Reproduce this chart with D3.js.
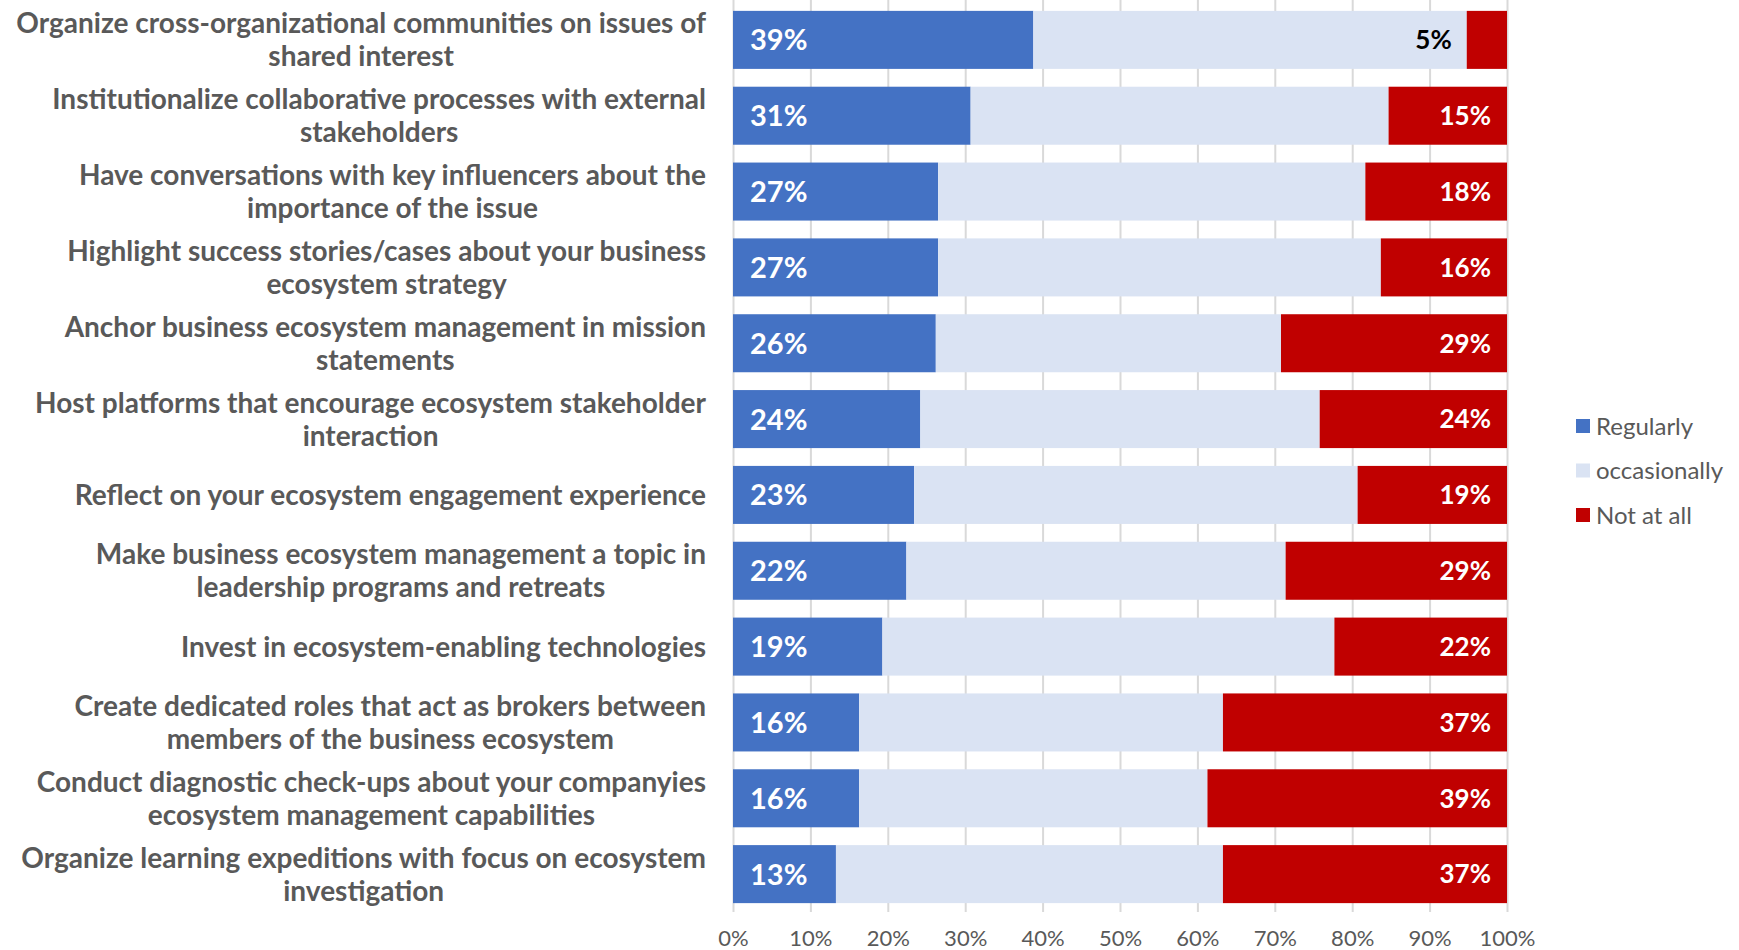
<!DOCTYPE html>
<html>
<head>
<meta charset="utf-8">
<script src="https://cdn.jsdelivr.net/npm/d3@7"></script>
<style>
  body { margin: 0; background: #fff; font-family: Lato, sans-serif; }
  .grid line { stroke: #d9d9d9; stroke-width: 2; }
  .grid path { display: none; }
  .x-axis path, .x-axis line { display: none; }
  .x-axis text { fill: #595959; font-size: 22px; font-family: Lato, sans-serif; }
</style>
</head>
<body>
<div class="chart"></div>
<script>
// Set up chart
var svgWidth = 1739;
var svgHeight = 950;
var margin = {top: 2, right: 232, bottom: 38, left: 733};
var width = svgWidth - margin.left - margin.right;
var height = svgHeight - margin.top - margin.bottom;

// Data
var categories = [
  ["Organize cross-organizational communities on issues of", "shared interest"],
  ["Institutionalize collaborative processes with external", "stakeholders"],
  ["Have conversations with key influencers about the", "importance of the issue"],
  ["Highlight success stories/cases about your business", "ecosystem strategy"],
  ["Anchor business ecosystem management in mission", "statements"],
  ["Host platforms that encourage ecosystem stakeholder", "interaction"],
  ["Reflect on your ecosystem engagement experience"],
  ["Make business ecosystem management a topic in", "leadership programs and retreats"],
  ["Invest in ecosystem-enabling technologies"],
  ["Create dedicated roles that act as brokers between", "members of the business ecosystem"],
  ["Conduct diagnostic check-ups about your companyies", "ecosystem management capabilities"],
  ["Organize learning expeditions with focus on ecosystem", "investigation"]
];
var regularly    = [38.8, 30.7, 26.5, 26.5, 26.2, 24.2, 23.4, 22.4, 19.3, 16.3, 16.3, 13.3];
var occasionally = [56.0, 54.0, 55.2, 57.2, 44.6, 51.6, 57.3, 49.0, 58.4, 47.0, 45.0, 50.0];
var notAtAll     = [5.2, 15.3, 18.3, 16.3, 29.2, 24.2, 19.3, 28.6, 22.3, 36.7, 38.7, 36.7];
var seriesNames  = ["Regularly", "occasionally", "Not at all"];
var seriesColors = ["#4472c4", "#dae3f3", "#c00000"];
var xTicks = [0, 10, 20, 30, 40, 50, 60, 70, 80, 90, 100];

var rows = categories.map(function(c, i) {
  return {idx: i, lines: c, Regularly: regularly[i], occasionally: occasionally[i], "Not at all": notAtAll[i]};
});

var svg = d3.select(".chart").append("svg")
  .attr("width", svgWidth)
  .attr("height", svgHeight);

var chart = svg.append("g")
  .attr("transform", "translate(" + margin.left + "," + margin.top + ")");

var x = d3.scaleLinear().domain([0, 100]).range([0, width]);
var y = d3.scaleBand().domain(d3.range(categories.length)).range([0, height]).paddingInner(0.235).paddingOuter(0.117);

// gridlines
chart.append("g")
  .attr("class", "grid")
  .attr("transform", "translate(0," + height + ")")
  .call(d3.axisBottom(x).tickValues(xTicks).tickSize(-height - margin.top).tickFormat(""));

// tick labels
chart.append("g")
  .attr("class", "x-axis")
  .attr("transform", "translate(0," + height + ")")
  .call(d3.axisBottom(x).tickValues(xTicks).tickSize(0).tickFormat(function(d) { return d + "%"; }))
  .selectAll("text")
  .attr("y", 34)
  .attr("dy", 0);

var stack = d3.stack().keys(seriesNames);
var stacked = stack(rows);

var layers = chart.selectAll(".layer")
  .data(stacked)
  .enter()
  .append("g")
  .attr("class", "layer")
  .attr("fill", function(d, i) { return seriesColors[i]; });

layers.selectAll("rect")
  .data(function(d) { return d; })
  .enter()
  .append("rect")
  .attr("x", function(d) { return x(d[0]); })
  .attr("y", function(d) { return y(d.data.idx); })
  .attr("width", function(d) { return x(d[1]) - x(d[0]); })
  .attr("height", y.bandwidth());

// value labels: Regularly at left
chart.selectAll(".lbl-reg")
  .data(rows)
  .enter()
  .append("text")
  .attr("x", 17)
  .attr("y", function(d) { return y(d.idx) + y.bandwidth() / 2; })
  .attr("dy", "0.36em")
  .style("font-size", "29px")
  .style("font-weight", "bold")
  .style("fill", "#fff")
  .text(function(d) { return Math.round(d.Regularly) + "%"; });

// value labels: Not at all at right (too narrow -> put outside, left of the segment)
var notLayer = stacked[2];
chart.selectAll(".lbl-not")
  .data(notLayer)
  .enter()
  .append("text")
  .attr("x", function(d) {
    var w = x(d[1]) - x(d[0]);
    return w < 60 ? x(d[0]) - 15 : x(d[1]) - 16;
  })
  .attr("y", function(d) { return y(d.data.idx) + y.bandwidth() / 2; })
  .attr("dy", "0.36em")
  .attr("text-anchor", "end")
  .style("font-size", "26px")
  .style("font-weight", "bold")
  .style("fill", function(d) { return (x(d[1]) - x(d[0])) < 60 ? "#000" : "#fff"; })
  .text(function(d) { return Math.round(d.data["Not at all"]) + "%"; });

// category labels
var lineH = 33;
var catLabels = chart.selectAll(".cat")
  .data(rows)
  .enter()
  .append("text")
  .attr("text-anchor", "middle")
  .style("font-size", "28px")
  .style("font-weight", "bold")
  .style("fill", "#595959");

catLabels.each(function(d) {
  var t = d3.select(this);
  var cy = y(d.idx) + y.bandwidth() / 2;
  var n = d.lines.length;
  // measure widest line, right-align block, center lines inside it
  var widths = [];
  d.lines.forEach(function(line, k) {
    var ts = t.append("tspan")
      .attr("y", cy + (k - (n - 1) / 2) * lineH)
      .attr("dy", "0.36em")
      .text(line);
    widths.push(ts.node().getComputedTextLength());
  });
  var maxW = d3.max(widths);
  var cx = -27 - maxW / 2;
  t.selectAll("tspan").attr("x", cx);
});

// legend
var legend = svg.append("g")
  .attr("transform", "translate(1576,426)");

var items = legend.selectAll(".item")
  .data(seriesNames)
  .enter()
  .append("g")
  .attr("transform", function(d, i) { return "translate(0," + i * 44.5 + ")"; });

items.append("rect")
  .attr("x", 0)
  .attr("y", -7)
  .attr("width", 14)
  .attr("height", 14)
  .attr("fill", function(d, i) { return seriesColors[i]; });

items.append("text")
  .attr("x", 20)
  .attr("dy", "0.36em")
  .style("font-size", "24px")
  .style("fill", "#595959")
  .text(function(d) { return d; });
</script>
</body>
</html>
